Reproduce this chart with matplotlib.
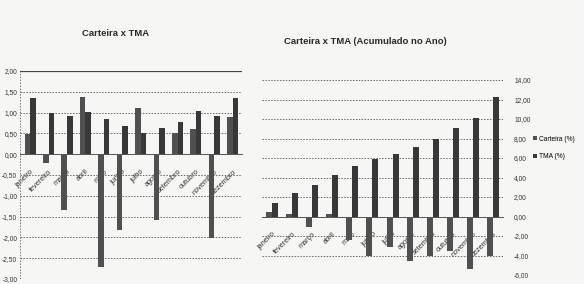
import numpy as np
import matplotlib
matplotlib.use("Agg")
import matplotlib.pyplot as plt
from matplotlib.ticker import FuncFormatter, MultipleLocator

plt.rcParams['font.family'] = ['Liberation Sans Narrow', 'Liberation Sans', 'DejaVu Sans']

# === Dados ===
meses = ["janeiro", "fevereiro", "março", "abril", "maio", "junho",
         "julho", "agosto", "setembro", "outubro", "novembro", "dezembro"]

carteira_mes = [0.48, -0.20, -1.34, 1.38, -2.70, -1.82, 1.10, -1.59, 0.50, 0.60, -2.02, 0.90]
tma_mes = [1.36, 1.00, 0.91, 1.02, 0.85, 0.67, 0.50, 0.62, 0.78, 1.03, 0.91, 1.34]

carteira_acum = [0.45, 0.25, -1.05, 0.25, -2.40, -4.10, -3.10, -4.55, -4.05, -3.50, -5.40, -4.00]
tma_acum = [1.37, 2.38, 3.25, 4.30, 5.20, 5.90, 6.45, 7.10, 7.95, 9.10, 10.15, 12.25]

cor_carteira = "#505050"
cor_tma = "#383838"
fundo = "#f6f6f4"

fmt_virgula = FuncFormatter(lambda v, p: f"{v:.2f}".replace(".", ","))

fig = plt.figure(figsize=(5.84, 2.84), dpi=100)
fig.patch.set_facecolor(fundo)

x = np.arange(len(meses))


def estilo(ax):
    ax.set_facecolor(fundo)
    ax.grid(axis="y", linestyle=(0, (1.5, 1.5)), color="#666666", linewidth=0.7)
    ax.set_axisbelow(True)
    for lado in ["top", "right", "left"]:
        ax.spines[lado].set_visible(False)
    ax.spines["bottom"].set_position(("data", 0))
    ax.spines["bottom"].set_color("#555555")
    ax.spines["bottom"].set_linewidth(0.7)
    ax.set_xticks(x)
    ax.set_xticklabels(meses, rotation=45, ha="right", rotation_mode="anchor",
                       fontsize=5.3, color="#333333")
    ax.tick_params(axis="x", length=0, pad=10)
    ax.tick_params(axis="y", length=0, labelsize=4.8, labelcolor="#333333")
    ax.yaxis.set_major_formatter(fmt_virgula)


# === Grafico mensal ===
ax1 = fig.add_axes([20 / 584, 5 / 284, 222 / 584, 208 / 284])
w1 = 0.3
ax1.bar(x - w1 / 2, carteira_mes, w1, color=cor_carteira)
ax1.bar(x + w1 / 2, tma_mes, w1, color=cor_tma)
ax1.set_ylim(-3, 2)
ax1.set_xlim(-0.55, 11.5)
ax1.yaxis.set_major_locator(MultipleLocator(0.5))
estilo(ax1)
ax1.axvline(-0.55, color="#777777", linestyle=(0, (1.5, 1.5)), linewidth=0.7)
ax1.axhline(2, color="#444444", linewidth=0.9)
ax1.tick_params(axis="y", pad=2)

# === Grafico acumulado ===
ax2 = fig.add_axes([262 / 584, 9 / 284, 241 / 584, 195 / 284])
w2 = 0.3
ax2.bar(x - w2 / 2, carteira_acum, w2, color=cor_carteira, label="Carteira (%)")
ax2.bar(x + w2 / 2, tma_acum, w2, color=cor_tma, label="TMA (%)")
ax2.set_ylim(-6, 14)
ax2.set_xlim(-0.5, 11.5)
ax2.yaxis.set_major_locator(MultipleLocator(2))
estilo(ax2)
ax2.yaxis.tick_right()
ax2.tick_params(axis="y", pad=8)
ax2.axvline(11.5, color="#777777", linestyle=(0, (1.5, 1.5)), linewidth=0.7)

fig.legend(loc="upper left", bbox_to_anchor=(530 / 584, 1 - 133 / 284),
           frameon=False, fontsize=4.8, handlelength=0.6, handleheight=0.6,
           labelspacing=1.6, handletextpad=0.4, borderaxespad=0)

# === Titulos ===
fig.text(116 / 584, 1 - 34 / 284, "Carteira x TMA", ha="center", va="center",
         fontsize=6.8, fontweight="bold", color="#2a2a2a")
fig.text(365 / 584, 1 - 41 / 284, "Carteira x TMA (Acumulado no Ano)", ha="center",
         va="center", fontsize=6.8, fontweight="bold", color="#2a2a2a")

plt.savefig("out.png", dpi=100, facecolor=fundo)
